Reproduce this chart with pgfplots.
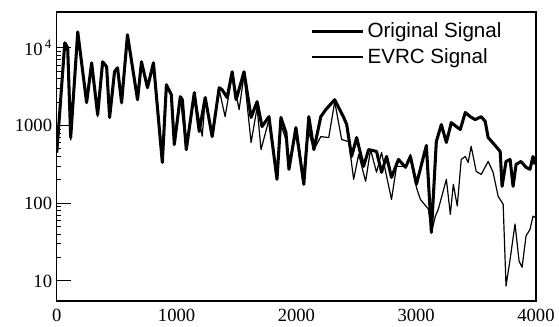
\documentclass[border=0pt]{standalone}
\usepackage{fontspec}
\setmainfont{Liberation Serif}
\newfontfamily\legfont{Liberation Sans}
\usepackage{pgfplots}
\pgfplotsset{compat=1.18}
\begin{document}
\begin{tikzpicture}
\begin{axis}[
 name=ax,
 scale only axis, width=360.75pt, height=217.5pt,
 ymode=log, xmin=0, xmax=4000, ymin=5.54, ymax=28950,
 axis line style={line width=1pt},
 xtick={0,1000,2000,3000,4000},
 xticklabels={0,1000,2000,3000,4000},
 ytick={10,100,1000,10000},
 yticklabels={10,100,1000,10\textsuperscript{\,4}},
 tick align=inside,
 xtick style={draw=none},
 ytick pos=left,
 major tick length=10.5pt,
 ytick style={line width=0.8pt, black},
 ticklabel style={font=\fontsize{14}{16}\selectfont},
 xticklabel style={yshift=-3pt},
 legend style={draw=none, fill=none, at={(0.528,0.972)}, anchor=north west,
   font=\legfont\fontsize{15.5}{18}\selectfont, row sep=2.5pt, inner sep=0pt},
 legend cell align=left,
 legend image code/.code={\draw[#1] (0pt,0pt) -- (39pt,0pt);},
]
\addplot[black, line width=2.3pt, line join=round] coordinates {
(0,450) (67,11600) (91,10000) (116,700) (175,16000) (249,1970) (291,6420)
(341,1380) (383,6620) (416,5710) (441,1270) (482,4920) (507,5540) (541,1970)
(590,14700) (674,2150) (707,6620) (757,3070) (807,6420) (881,335) (915,3350)
(956,2500) (981,570) (1031,2350) (1048,2150) (1081,490) (1148,2650) (1189,840)
(1239,2290) (1297,720) (1356,3070) (1380,2890) (1422,2290) (1464,4920)
(1497,2150) (1563,4920) (1622,1270) (1672,2030) (1713,970) (1771,1300)
(1838,203) (1871,1270) (1913,810) (1938,273) (1996,940) (2062,175) (2104,1300)
(2146,490) (2204,1300) (2245,1600) (2320,2150) (2395,1270) (2420,1030)
(2461,400) (2503,700) (2561,298) (2603,490) (2669,464) (2711,250) (2753,400)
(2794,215) (2852,366) (2911,290) (2952,400) (3002,175) (3085,554) (3127,42)
(3168,620) (3210,1030) (3252,605) (3293,1090) (3335,970) (3368,890) (3410,1470)
(3451,1300) (3493,1190) (3543,1300) (3576,1130) (3601,700) (3659,554)
(3701,464) (3717,165) (3750,345) (3784,366) (3809,165) (3834,316) (3875,345)
(3917,290) (3950,273) (3975,400) (3992,316)
};
\addlegendentry{Original Signal}
\addplot[black, line width=0.9pt, line join=round] coordinates {
(0,450) (67,11000) (91,9500) (116,650) (175,15500) (249,2000) (291,6200)
(341,1300) (383,6500) (416,5500) (441,1250) (482,4700) (507,5300) (541,1900)
(590,14000) (674,2100) (707,6300) (757,3000) (807,6200) (881,340) (915,3300)
(956,2400) (981,560) (1031,2300) (1081,480) (1148,2600) (1214,730) (1239,2150)
(1297,720) (1356,2890) (1405,1300) (1464,4510) (1522,1600) (1563,4510)
(1622,605) (1672,1700) (1705,490) (1771,1190) (1838,235) (1871,1030)
(1913,660) (1938,316) (1996,770) (2054,203) (2096,890) (2146,490) (2204,720)
(2270,700) (2320,2030) (2378,660) (2437,620) (2478,203) (2520,425) (2578,191)
(2619,490) (2669,250) (2711,450) (2794,112) (2836,298) (2911,298) (2952,425)
(3002,160) (3035,112) (3102,84) (3127,42) (3160,68) (3185,84) (3252,203)
(3285,72) (3310,175) (3343,92) (3376,366) (3410,400) (3434,335) (3459,540)
(3501,257) (3543,235) (3601,345) (3642,250) (3684,123) (3726,97) (3750,8.6)
(3784,19) (3825,54) (3859,18) (3884,15) (3917,38) (3950,46) (3975,68) (3992,66)
};
\addlegendentry{EVRC Signal}
\end{axis}
\path[use as bounding box] ([shift={(-42.75pt,-16.5pt)}]ax.south west) rectangle ([shift={(15.75pt,9pt)}]ax.north east);
\end{tikzpicture}
\end{document}
